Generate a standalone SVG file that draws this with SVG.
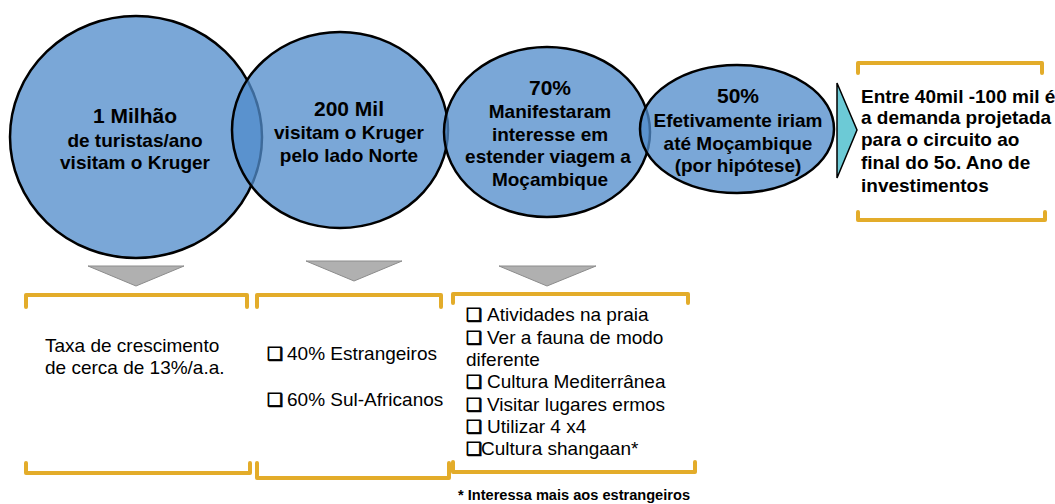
<svg xmlns="http://www.w3.org/2000/svg" width="1055" height="504" viewBox="0 0 1055 504">
<style>
.bub{fill:#508bca;fill-opacity:0.76;stroke:#000;stroke-width:2.5}
.tri{fill:#b0b0b0;stroke:#8c8c8c;stroke-width:1}
.brk{fill:none;stroke:#e3ac2a;stroke-width:4;stroke-linejoin:round;stroke-linecap:round}
.h{font-family:"Liberation Sans",Arial,sans-serif;font-weight:bold;font-size:21px;fill:#000;text-anchor:middle}
.b{font-family:"Liberation Sans",Arial,sans-serif;font-weight:bold;font-size:19px;fill:#000;text-anchor:middle}
.bl{font-family:"Liberation Sans",Arial,sans-serif;font-weight:bold;font-size:19px;fill:#000}
.r{font-family:"Liberation Sans",Arial,sans-serif;font-size:19px;fill:#000}
.cb{font-family:"DejaVu Sans",sans-serif;font-size:18px;font-weight:bold;stroke:#000;stroke-width:0.8}
.note{font-family:"Liberation Sans",Arial,sans-serif;font-weight:bold;font-size:14.6px;fill:#000}
</style>
<g id="connectors">
<polygon class="tri" points="88,266 184,266 136,286"/>
<polygon class="tri" points="306,261 402,261 354,281"/>
<polygon class="tri" points="499,266 596,266 547,286"/>
<polygon points="837,83 857,130 837,178" fill="#6ccad6" stroke="#000" stroke-width="1.5"/>
</g>
<g id="n1"><ellipse class="bub" cx="136" cy="137" rx="126" ry="121"/></g>
<g id="n2"><ellipse class="bub" cx="340" cy="130" rx="108" ry="98"/></g>
<g id="n3"><ellipse class="bub" cx="547" cy="132" rx="103" ry="85"/></g>
<g id="n4"><ellipse class="bub" cx="737" cy="129" rx="97" ry="64"/></g>
<g id="n1-text">
<text class="h" x="135" y="123">1 Milhão</text>
<text class="b" x="135" y="147">de turistas/ano</text>
<text class="b" x="135" y="169">visitam o Kruger</text>
</g>
<g id="n2-text">
<text class="h" x="349" y="116">200 Mil</text>
<text class="b" x="349" y="139">visitam o Kruger</text>
<text class="b" x="349" y="162">pelo lado Norte</text>
</g>
<g id="n3-text">
<text class="h" x="550" y="95">70%</text>
<text class="b" x="550" y="118">Manifestaram</text>
<text class="b" x="550" y="141">interesse em</text>
<text class="b" x="548" y="163">estender viagem a</text>
<text class="b" x="550" y="186">Moçambique</text>
</g>
<g id="n4-text">
<text class="h" x="738" y="103">50%</text>
<text class="b" x="738" y="127">Efetivamente iriam</text>
<text class="b" x="738" y="150">até Moçambique</text>
<text class="b" x="738" y="172">(por hipótese)</text>
</g>
<g id="box-right">
<path class="brk" d="M858,73 V63 H1042 V73"/>
<path class="brk" d="M858,212 V220 H1045 V212"/>
<text class="bl" x="861" y="103">Entre 40mil -100 mil é</text>
<text class="bl" x="861" y="124">a demanda projetada</text>
<text class="bl" x="861" y="146">para o circuito ao</text>
<text class="bl" x="861" y="169">final do 5o. Ano de</text>
<text class="bl" x="861" y="192">investimentos</text>
</g>
<g id="box1">
<path class="brk" d="M26,307 V295 H247 V307"/>
<path class="brk" d="M26,463 V473 H250 V463"/>
<text class="r" x="45" y="352">Taxa de crescimento</text>
<text class="r" x="45" y="374">de cerca de 13%/a.a.</text>
</g>
<g id="box2">
<path class="brk" d="M257,307 V295 H441 V307"/>
<path class="brk" d="M257,463 V478 H449 V463"/>
<text class="r" x="267" y="360"><tspan class="cb">❑</tspan><tspan x="287">40% Estrangeiros</tspan></text>
<text class="r" x="267" y="406"><tspan class="cb">❑</tspan><tspan x="287">60% Sul-Africanos</tspan></text>
</g>
<g id="box3">
<path class="brk" d="M453,303 V294 H688 V303"/>
<path class="brk" d="M453,462 V472 H695 V462"/>
<text class="r" x="466" y="321"><tspan class="cb">❑</tspan><tspan x="487">Atividades na praia</tspan></text>
<text class="r" x="466" y="344"><tspan class="cb">❑</tspan><tspan x="487">Ver a fauna de modo</tspan></text>
<text class="r" x="466" y="366">diferente</text>
<text class="r" x="466" y="388"><tspan class="cb">❑</tspan><tspan x="487">Cultura Mediterrânea</tspan></text>
<text class="r" x="466" y="411"><tspan class="cb">❑</tspan><tspan x="487">Visitar lugares ermos</tspan></text>
<text class="r" x="466" y="433"><tspan class="cb">❑</tspan><tspan x="487">Utilizar 4 x4</tspan></text>
<text class="r" x="466" y="455"><tspan class="cb">❑</tspan><tspan x="481">Cultura shangaan*</tspan></text>
<text class="note" x="458" y="500">* Interessa mais aos estrangeiros</text>
</g>
</svg>
